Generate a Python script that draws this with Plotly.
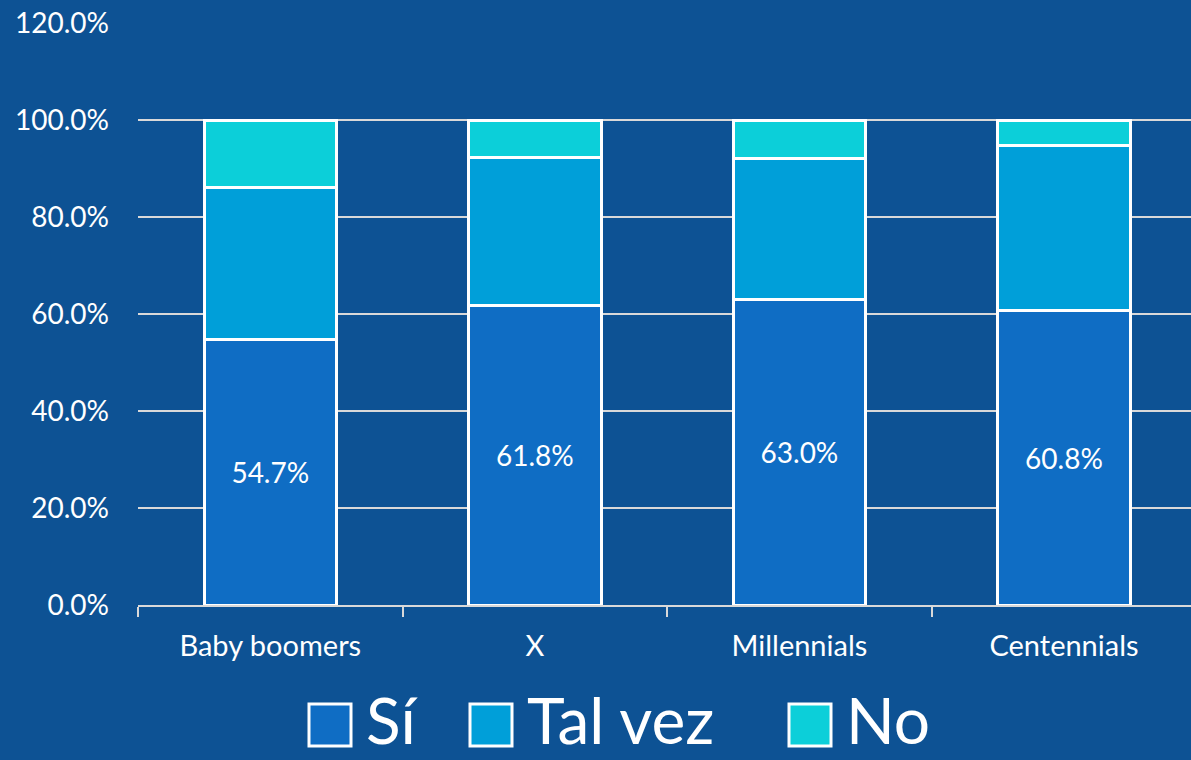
import plotly.graph_objects as go

categories = ["Baby boomers", "X", "Millennials", "Centennials"]
series_names = ["Sí", "Tal vez", "No"]
si_values = [54.7, 61.8, 63.0, 60.8]
talvez_values = [31.4, 30.5, 29.1, 34.0]
no_values = [13.9, 7.7, 7.9, 5.2]
y_ticks = [0, 20, 40, 60, 80, 100, 120]

colors = ["#0F6DC4", "#009FD9", "#0CCFD9"]
BG = "#0D5294"
FONT = "Lato"

fig = go.Figure()
for name, vals, col, show_text in zip(series_names, [si_values, talvez_values, no_values], colors, [True, False, False]):
    fig.add_trace(go.Bar(
        x=categories, y=vals, name=name,
        marker=dict(color=col, line=dict(color="white", width=3)),
        width=0.5,
        text=[f"{v:.1f}%" for v in vals] if show_text else None,
        textposition="inside" if show_text else "none",
        insidetextanchor="middle",
        textangle=0,
        textfont=dict(color="white", size=28, family=FONT),
        showlegend=False,
    ))

fig.update_layout(
    barmode="stack",
    width=1191, height=760,
    margin=dict(l=138, r=0, t=23, b=155),
    paper_bgcolor=BG, plot_bgcolor=BG,
    font=dict(family=FONT, color="white", size=28),
    xaxis=dict(range=[-0.5, 3.48], showgrid=False, showline=True, linecolor="#D9D9D9", linewidth=2,
               ticks="outside", tickson="boundaries", ticklen=10, tickcolor="#D9D9D9", tickwidth=1.5,
               tickfont=dict(size=29, color="white", family=FONT), ticklabelstandoff=14),
    yaxis=dict(range=[0, 120], tickvals=y_ticks, ticktext=[f"{v:.1f}%" for v in y_ticks],
               showgrid=True, gridcolor="#D9D9D9", gridwidth=1.5, zeroline=False, showline=False,
               ticks="", tickfont=dict(size=28, color="white", family=FONT), ticklabelstandoff=28),
)

# custom legend (large squares)
legend_x_px = [309, 470, 789]
W = 1191 - 138
H = 605 - 23
def px_x(x):
    return (x - 138) / W
def px_y(y):
    return (605 - y) / H
for name, col, x0 in zip(series_names, colors, legend_x_px):
    fig.add_shape(type="rect", xref="paper", yref="paper",
                  x0=px_x(x0), x1=px_x(x0 + 42), y0=px_y(746), y1=px_y(704),
                  fillcolor=col, line=dict(color="white", width=3))
    fig.add_annotation(xref="paper", yref="paper", x=px_x(x0 + 56), y=px_y(759),
                       xanchor="left", yanchor="bottom", text=name, showarrow=False,
                       font=dict(size=64, color="white", family=FONT), borderpad=0)

fig.write_html("out.html", config={"displayModeBar": False},
               post_script="document.body.style.margin='0';document.body.style.overflow='hidden';")
